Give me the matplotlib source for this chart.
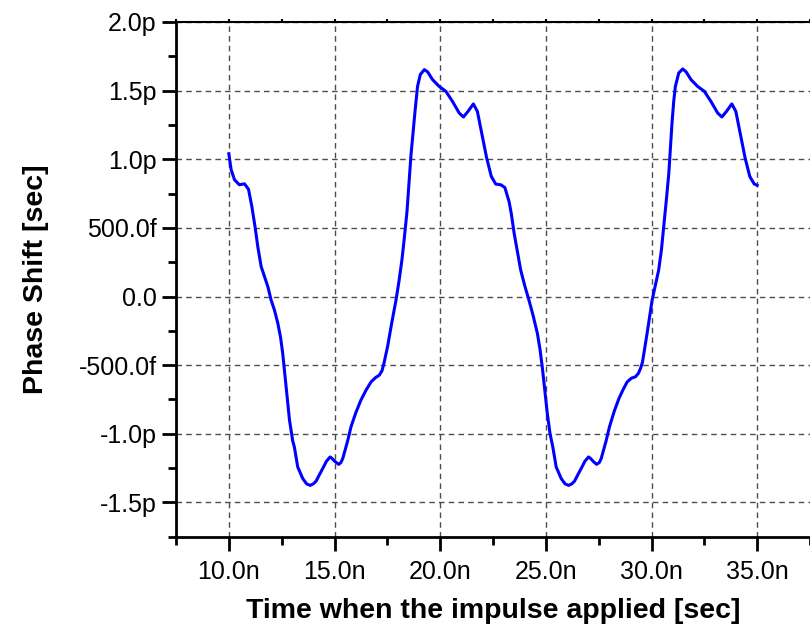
import matplotlib
matplotlib.use("Agg")
import matplotlib.pyplot as plt
from matplotlib.ticker import MultipleLocator

plt.rcParams["font.family"] = ["Liberation Sans", "DejaVu Sans"]

# time in ns, phase shift in ps
time_ns = [
    10.0, 10.11, 10.27, 10.5, 10.74, 10.93, 11.09, 11.25, 11.37, 11.53, 11.69,
    11.85, 12.0, 12.16, 12.32, 12.45, 12.55, 12.71, 12.87, 13.02, 13.1, 13.26,
    13.5, 13.68, 13.85, 14.0, 14.13, 14.28, 14.44, 14.62, 14.79, 14.89, 14.99,
    15.2, 15.3, 15.39, 15.5, 15.63, 15.78, 16.0, 16.25, 16.5, 16.73, 16.95,
    17.12, 17.25, 17.35, 17.51, 17.7, 17.91, 18.05, 18.19, 18.3, 18.43, 18.62,
    18.81, 18.93, 19.06, 19.25, 19.41, 19.64, 19.95, 20.27, 20.58, 20.9, 21.1,
    21.32, 21.57, 21.76, 21.95, 22.2, 22.42, 22.63, 22.87, 23.06, 23.26, 23.37,
    23.5, 23.65, 23.81, 24.0, 24.2, 24.4, 24.6, 24.72, 24.83, 24.95, 25.07,
    25.2, 25.33, 25.49, 25.73, 25.91, 26.08, 26.23, 26.36, 26.51, 26.67, 26.85,
    27.02, 27.12, 27.22, 27.4, 27.53, 27.62, 27.73, 27.86, 28.01, 28.25, 28.46,
    28.65, 28.85, 29.05, 29.24, 29.38, 29.48, 29.57, 29.64, 29.8, 30.03, 30.18,
    30.34, 30.47, 30.58, 30.7, 30.82, 30.97, 31.05, 31.13, 31.29, 31.48, 31.64,
    31.87, 32.18, 32.5, 32.81, 33.13, 33.33, 33.55, 33.8, 33.99, 34.18, 34.43,
    34.65, 34.86, 35.0,
]
phase_ps = [
    1.04, 0.923, 0.85, 0.814, 0.821, 0.782, 0.655, 0.498, 0.363, 0.218, 0.145,
    0.07, -0.026, -0.10, -0.196, -0.30, -0.415, -0.658, -0.90, -1.05, -1.096, -1.242,
    -1.327, -1.365, -1.376, -1.365, -1.345, -1.30, -1.254, -1.20, -1.169, -1.18, -1.198,
    -1.223, -1.21, -1.181, -1.12, -1.047, -0.95, -0.85, -0.755, -0.68, -0.622, -0.59,
    -0.573, -0.54, -0.48, -0.366, -0.20, -0.026, 0.11, 0.266, 0.42, 0.619, 1.033,
    1.349, 1.531, 1.617, 1.653, 1.636, 1.58, 1.531, 1.495, 1.422, 1.337, 1.308,
    1.349, 1.403, 1.349, 1.203, 1.009, 0.875, 0.819, 0.814, 0.794, 0.692, 0.60,
    0.461, 0.33, 0.193, 0.08, -0.026, -0.14, -0.269, -0.38, -0.512, -0.68, -0.853,
    -1.0, -1.096, -1.242, -1.327, -1.365, -1.376, -1.365, -1.345, -1.30, -1.254, -1.20,
    -1.169, -1.18, -1.198, -1.223, -1.21, -1.181, -1.12, -1.047, -0.95, -0.83, -0.743,
    -0.68, -0.622, -0.595, -0.585, -0.56, -0.524, -0.48, -0.415, -0.26, -0.026, 0.08,
    0.193, 0.34, 0.51, 0.70, 0.899, 1.264, 1.42, 1.531, 1.629, 1.658, 1.636,
    1.58, 1.531, 1.495, 1.422, 1.337, 1.308, 1.349, 1.403, 1.349, 1.203, 1.009,
    0.875, 0.82, 0.81,
]

x_ticks = [10, 15, 20, 25, 30, 35]
x_ticklabels = ["10.0n", "15.0n", "20.0n", "25.0n", "30.0n", "35.0n"]
y_ticks = [2.0, 1.5, 1.0, 0.5, 0.0, -0.5, -1.0, -1.5]
y_ticklabels = ["2.0p", "1.5p", "1.0p", "500.0f", "0.0", "-500.0f", "-1.0p", "-1.5p"]

fig = plt.figure(figsize=(8.1, 6.28), dpi=100)
ax = fig.add_axes([176 / 810, 91.3 / 628, 634 / 810, 514.7 / 628])

ax.plot(time_ns, phase_ps, color="#0000FF", linewidth=2.2, zorder=3,
        solid_joinstyle="round")

ax.set_xlim(7.5, 37.5)
ax.set_ylim(-1.75, 2.0)

ax.set_xticks(x_ticks)
ax.set_xticklabels(x_ticklabels)
ax.set_yticks(y_ticks)
ax.set_yticklabels(y_ticklabels)
ax.xaxis.set_minor_locator(MultipleLocator(2.5))
ax.yaxis.set_minor_locator(MultipleLocator(0.25))

ax.tick_params(axis="both", which="major", direction="out", length=10, width=2,
               labelsize=18)
ax.tick_params(axis="both", which="minor", direction="out", length=6, width=2)
ax.tick_params(axis="x", which="major", pad=7)
ax.tick_params(axis="y", which="major", pad=4)
ax.xaxis.set_tick_params(which="both", top=True)

for t in ax.xaxis.get_major_ticks() + ax.xaxis.get_minor_ticks():
    t.tick2line.set_markersize(2)
    t.tick2line.set_markeredgewidth(1.5)

ax.grid(True, which="major", color="0.3", linestyle=(0, (4, 3)), linewidth=1.0)

ax.spines["left"].set_linewidth(2)
ax.spines["bottom"].set_linewidth(2)
ax.spines["top"].set_linewidth(1.5)
ax.spines["right"].set_visible(False)

ax.set_xlabel("Time when the impulse applied [sec]", fontsize=20.5,
              fontweight="bold", labelpad=10)
ax.set_ylabel("Phase Shift [sec]", fontsize=20.5, fontweight="bold", labelpad=21)

fig.savefig("out.png", dpi=100)
